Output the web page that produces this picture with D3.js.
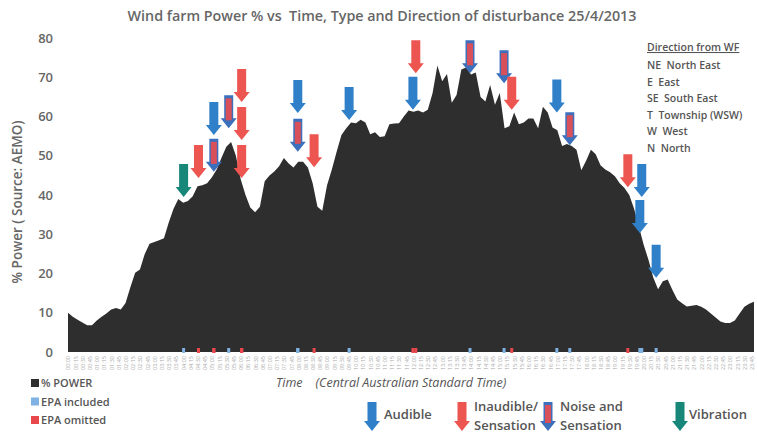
<!DOCTYPE html>
<html><head><meta charset="utf-8">
<script src="https://cdn.jsdelivr.net/npm/d3@7"></script>
<style>body{margin:0;background:#fff}svg{display:block}</style>
</head><body>
<svg id="chart" width="757" height="433"></svg>
<script>
// ---------- data ----------
const chartTitle = "Wind farm Power % vs  Time, Type and Direction of disturbance 25/4/2013";
const yTitle = "% Power ( Source: AEMO)";
const xTitle = "Time    (Central Australian Standard Time)";
const stepMinutes = 10; // one value every 10 minutes from 00:00
const powerValues = [
 10,9,8.2,7.5,6.8,6.8,8,9,9.8,10.8,11.2,10.8,12.5,16.5,20.2,21,25,27.6,28,28.5,
 29,33,36.5,39,38,38.5,39.7,42.2,42.5,43,44.5,46.5,49.5,52.3,53.5,50,44,40,36.8,35.6,
 37,43.5,45,46,47.3,49.4,48,47,48.5,48.5,47,43,37,36,42.5,46.5,51,55.3,57,58.5,
 58.3,59.2,58.5,55.5,56,54.8,55,58,58.2,58.3,60,61.5,61.2,61.5,61,61.7,66,73,69,70.8,
 63.5,65.5,72,72.5,70.7,71.2,65,63.8,68,63,66,57,57.5,61,58,58.5,59.5,59.5,57,62.5,
 61,57.2,56.5,52.5,53,52.5,51.5,46.3,48.7,51.5,50.4,47.6,46.5,45.8,44.8,43,41.8,40,36.5,32,
 27.3,23.5,19,16,18,18.5,15.8,13.4,12.4,11.6,11.8,12,11.5,10.8,9.8,8.8,7.8,7.4,7.4,8,
 9.8,11.5,12.3,12.8
];
const yTicks = [0,10,20,30,40,50,60,70,80];
const tickEveryMinutes = 15;

// disturbance events: time, % power level the arrow points at, type, EPA status
const eventTimes = ["04:01","04:32","05:04","05:04","05:35","06:02","06:02","06:02","07:59","07:59","08:33","09:46","12:05","11:59","13:58","15:09","15:25","16:59","17:26","19:27","19:56","19:52","20:26"];
const eventLevels = [39.5,44.3,55.3,45.9,57,63.7,54,44.3,60.9,51,47.1,59.1,71,61.7,71,68.5,61.7,61,52.7,42,39.5,30.3,18.9];
const eventTypes = ["vibration","inaudible","audible","noise","noise","inaudible","inaudible","inaudible","audible","noise","inaudible","audible","inaudible","audible","noise","noise","inaudible","audible","noise","inaudible","audible","audible","audible"];
const eventEpa = ["included","omitted","omitted","omitted","included","omitted","omitted","omitted","included","included","omitted","included","omitted","omitted","included","included","omitted","included","included","omitted","included","included","included"];

const directionTitle = "Direction from WF";
const directionLines = ["NE  North East","E  East","SE  South East","T  Township (WSW)","W  West","N  North"];
const seriesLegend = ["% POWER","EPA included","EPA omitted"];
const arrowLegendTypes = ["audible","inaudible","noise","vibration"];
const arrowLegendLabels = [["Audible"],["Inaudible/","Sensation"],["Noise and","Sensation"],["Vibration"]];

// ---------- styles ----------
const colors = {area:"#2e2e2e", audible:"#2f80c8", inaudible:"#ec5550", noiseOuter:"#3c70bd", noiseInner:"#d8505a", vibration:"#17877a", included:"#7fb2e3", omitted:"#e8474c", text:"#555"};
const font = "'Open Sans', sans-serif";

const svg = d3.select("#chart");
const parse = d3.timeParse("%H:%M");
const t0 = parse("00:00");
const times = powerValues.map((v,i)=>d3.timeMinute.offset(t0, i*stepMinutes));
const x = d3.scaleTime().domain([times[0], times[times.length-1]]).range([68, 754]);
const y = d3.scaleLinear().domain([0,80]).range([352, 38]);

// title
svg.append("text").attr("x",382).attr("y",21).attr("text-anchor","middle").attr("xml:space","preserve")
  .attr("font-family",font).attr("font-size",14.3).attr("font-weight",600).attr("fill","#666").text(chartTitle);

// area
const area = d3.area().x((d,i)=>x(times[i])).y0(y(0)).y1(d=>y(d)).curve(d3.curveLinear);
svg.append("path").datum(powerValues).attr("d",area).attr("fill",colors.area);

// y axis
const ya = svg.append("g").attr("transform","translate(58,0)")
  .call(d3.axisLeft(y).tickValues(yTicks).tickSize(0).tickPadding(5));
ya.select(".domain").remove();
ya.selectAll("text").attr("font-family",font).attr("font-size",13).attr("font-weight",600).attr("fill","#666");

svg.append("text").attr("transform","translate(22,202) rotate(-90)").attr("text-anchor","middle")
  .attr("font-family",font).attr("font-size",13.5).attr("font-weight",600).attr("fill","#666")
  .text(yTitle);

// x axis (tiny rotated time labels)
const xa = svg.append("g").attr("transform","translate(0,354)")
  .call(d3.axisBottom(x).ticks(d3.timeMinute.every(tickEveryMinutes)).tickFormat(d3.timeFormat("%H:%M")).tickSize(0));
xa.select(".domain").remove();
xa.selectAll("text").attr("font-family",font).attr("font-size",5.5).attr("fill","#aaa")
  .attr("text-anchor","end").attr("transform","rotate(-90)").attr("x",-2).attr("y",0).attr("dy","0.35em");

svg.append("text").attr("x",276).attr("y",387).attr("font-family",font).attr("font-size",12.5)
  .attr("font-style","italic").attr("fill","#555").attr("xml:space","preserve").text(xTitle);

// EPA markers at baseline
svg.append("g").selectAll("rect").data(eventTimes).join("rect")
  .attr("x",(d)=>x(parse(d))-1.5).attr("y",y(0)-4).attr("width",3).attr("height",5)
  .attr("fill",(d,i)=>eventEpa[i]==="included"?colors.included:colors.omitted);

// arrows
function arrowPath(h, sw, hw, hh){
  return `M${-sw/2},${-h} H${sw/2} V${-hh} H${hw/2} L0,0 L${-hw/2},${-hh} H${-sw/2} Z`;
}
function drawArrow(g, type, h){
  const sw=9, hw=16, hh=10;
  if(type==="noise"){
    g.append("path").attr("d",arrowPath(h,sw,hw,hh)).attr("fill",colors.noiseOuter);
    g.append("rect").attr("x",-sw/2+1.5).attr("y",-h+3).attr("width",sw-3).attr("height",h-hh-1).attr("fill",colors.noiseInner);
  } else {
    g.append("path").attr("d",arrowPath(h,sw,hw,hh)).attr("fill",colors[type]);
  }
}
const arrows = svg.append("g");
eventTimes.forEach((t,i)=>{
  const g = arrows.append("g").attr("transform",`translate(${x(parse(t))},${y(eventLevels[i])})`);
  drawArrow(g, eventTypes[i], 33);
});

// direction legend
const dir = svg.append("g").attr("font-family",font).attr("font-size",10.5).attr("fill","#555").attr("font-weight",600);
dir.append("text").attr("x",647).attr("y",51).attr("text-decoration","underline").text(directionTitle);
directionLines.forEach((s,i)=>dir.append("text").attr("x",647).attr("y",69+i*16.6).attr("xml:space","preserve").text(s));

// series legend (bottom-left)
const legColors = [colors.area, colors.included, colors.omitted];
seriesLegend.forEach((s,i)=>{
  svg.append("rect").attr("x",31).attr("y",379+i*18.5).attr("width",8).attr("height",8).attr("fill",legColors[i]);
  svg.append("text").attr("x",41).attr("y",387+i*18.5).attr("font-family",font).attr("font-size",11)
    .attr("font-weight",600).attr("fill","#555").text(s);
});

// arrow legend (bottom)
const legX = [372, 462, 548, 680];
arrowLegendTypes.forEach((t,i)=>{
  const g = svg.append("g").attr("transform",`translate(${legX[i]},431)`);
  drawArrow(g, t, 29);
  const lines = arrowLegendLabels[i];
  lines.forEach((s,j)=>{
    svg.append("text").attr("x",legX[i]+(i===3?9:12)).attr("y", lines.length===1 ? 419 : 411+j*19)
      .attr("font-family",font).attr("font-size",13).attr("font-weight",600).attr("fill","#555").text(s);
  });
});
</script>
</body></html>
